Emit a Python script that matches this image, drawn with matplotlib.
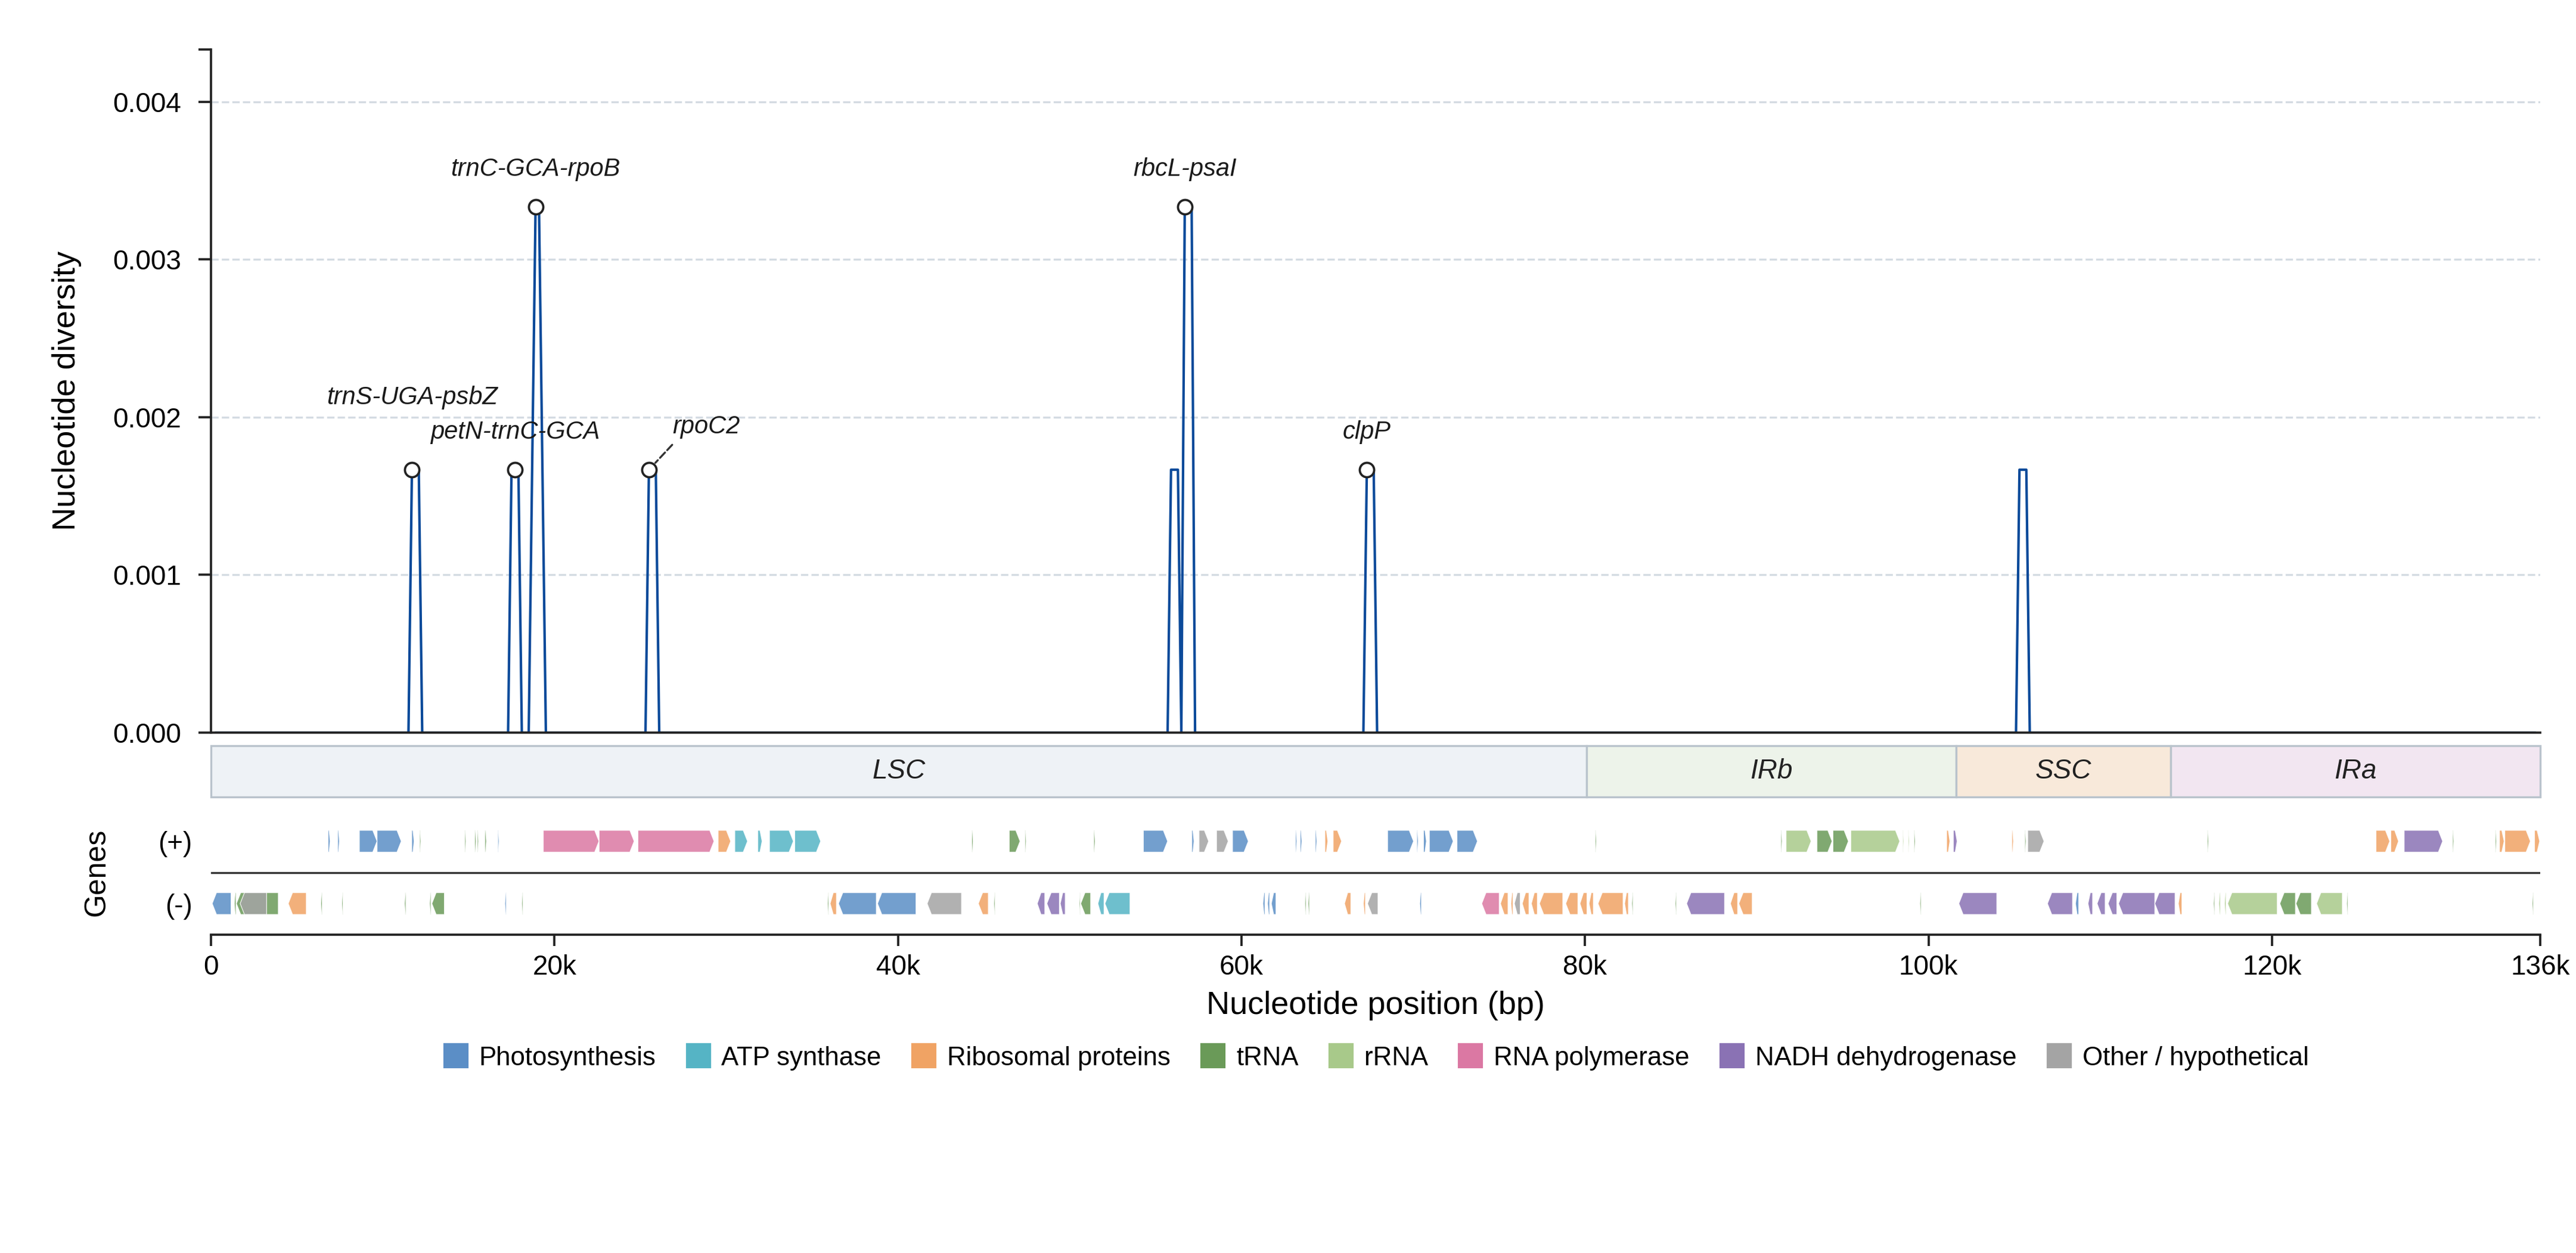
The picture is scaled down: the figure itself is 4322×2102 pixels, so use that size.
import matplotlib
matplotlib.use("Agg")
import matplotlib.pyplot as plt
import numpy as np
from matplotlib.lines import Line2D
from matplotlib.patches import Polygon, Rectangle

plt.rcParams["font.family"] = ["Liberation Sans", "DejaVu Sans"]

GENOME_LEN = 135620
WIN_FIRST = 300      # midpoint of first 600 bp window
WIN_STEP = 200

# sliding windows with non-zero Pi (window midpoint, value); all others are 0
pi_mid = [11700, 11900, 12100, 17500, 17700, 17900,
          18700, 18900, 19100, 19300, 25500, 25700, 25900,
          55900, 56100, 56300, 56700, 56900, 57100,
          67300, 67500, 67700, 105300, 105500, 105700]
pi_val = [0.001667, 0.001667, 0.001667, 0.001667, 0.001667, 0.001667,
          0.001667, 0.003333, 0.003333, 0.001667, 0.001667, 0.001667, 0.001667,
          0.001667, 0.001667, 0.001667, 0.003333, 0.003333, 0.003333,
          0.001667, 0.001667, 0.001667, 0.001667, 0.001667, 0.001667]

# labelled hotspots
peak_names = ["trnS-UGA-psbZ", "petN-trnC-GCA", "trnC-GCA-rpoB", "rpoC2",
              "rbcL-psaI", "clpP"]
peak_pos = [11700, 17700, 18900, 25500, 56700, 67300]

# quadripartite structure
region_names = ["LSC", "IRb", "SSC", "IRa"]
region_edges = [0, 80100, 101600, 114120, 135620]
region_fill = ["#eef2f6", "#edf3ea", "#f8e9da", "#f2e6f1"]

categories = ["Photosynthesis", "ATP synthase", "Ribosomal proteins", "tRNA",
              "rRNA", "RNA polymerase", "NADH dehydrogenase",
              "Other / hypothetical"]
cat_keys = ["PS", "ATP", "RP", "TRNA", "RRNA", "RNAP", "NDH", "OTH"]
cat_colors = ["#5b8ec6", "#55b4c5", "#f0a364", "#6a9a58", "#a8c98a",
              "#db78a3", "#8a72b4", "#a4a4a4"]

# genes (start, end, category)
plus_genes = [
    (6820, 6940, "PS"), (7380, 7480, "PS"), (8640, 9670, "PS"),
    (9670, 11080, "PS"), (11690, 11830, "PS"), (12150, 12220, "TRNA"),
    (14780, 14850, "TRNA"), (15360, 15440, "TRNA"), (15510, 15580, "TRNA"),
    (15950, 16040, "TRNA"), (16700, 16770, "PS"), (19350, 22590, "RNAP"),
    (22600, 24640, "RNAP"), (24860, 29290, "RNAP"), (29530, 30260, "RP"),
    (30500, 31240, "ATP"), (31840, 32090, "ATP"), (32520, 33910, "ATP"),
    (33990, 35500, "ATP"), (44300, 44380, "TRNA"), (46480, 47110, "TRNA"),
    (47400, 47470, "TRNA"), (51400, 51480, "TRNA"), (54290, 55700, "PS"),
    (57110, 57240, "PS"), (57530, 58090, "OTH"), (58550, 59230, "OTH"),
    (59480, 60400, "PS"), (63150, 63230, "PS"), (63420, 63520, "PS"),
    (64300, 64390, "PS"), (64860, 65030, "RP"), (65340, 65830, "RP"),
    (68510, 70020, "PS"), (70210, 70290, "PS"), (70600, 70770, "PS"),
    (70940, 72330, "PS"), (72550, 73740, "PS"), (80600, 80670, "TRNA"),
    (91410, 91480, "TRNA"), (91710, 93170, "RRNA"), (93510, 94390, "TRNA"),
    (94440, 95340, "TRNA"), (95480, 98330, "RRNA"), (98500, 98560, "RRNA"),
    (98820, 98880, "RRNA"), (99160, 99230, "TRNA"), (101060, 101250, "RP"),
    (101450, 101670, "NDH"), (104860, 104950, "RP"), (105610, 105680, "TRNA"),
    (105780, 106730, "OTH"), (116240, 116310, "TRNA"), (126060, 126860, "RP"),
    (126920, 127370, "RP"), (127700, 129940, "NDH"), (130520, 130590, "TRNA"),
    (133010, 133080, "TRNA"), (133250, 133520, "RP"), (133560, 135050, "RP"),
    (135290, 135590, "RP"),
]
minus_genes = [
    (70, 1170, "PS"), (1360, 1460, "TRNA"), (1480, 3920, "TRNA"),
    (1700, 3240, "OTH"), (4500, 5550, "RP"), (6400, 6480, "TRNA"),
    (7620, 7690, "TRNA"), (11270, 11350, "TRNA"), (12730, 12810, "TRNA"),
    (12860, 13590, "TRNA"), (17110, 17190, "PS"), (18090, 18160, "TRNA"),
    (35900, 35970, "TRNA"), (36050, 36420, "RP"), (36540, 38740, "PS"),
    (38810, 41050, "PS"), (41700, 43700, "OTH"), (44680, 45260, "RP"),
    (45590, 45660, "TRNA"), (48110, 48550, "NDH"), (48670, 49400, "NDH"),
    (49450, 49740, "NDH"), (50560, 50620, "TRNA"), (50640, 51220, "TRNA"),
    (51640, 52000, "ATP"), (52050, 53510, "ATP"), (61250, 61370, "PS"),
    (61520, 61640, "PS"), (61740, 62010, "PS"), (63690, 63760, "TRNA"),
    (63880, 63960, "TRNA"), (66000, 66370, "RP"), (67100, 67220, "RP"),
    (67340, 67950, "OTH"), (70380, 70480, "PS"), (73990, 75010, "RNAP"),
    (75080, 75520, "RP"), (75690, 75810, "RP"), (75890, 76230, "OTH"),
    (76350, 76740, "RP"), (76880, 77230, "RP"), (77350, 78710, "RP"),
    (78880, 79590, "RP"), (79710, 80120, "RP"), (80240, 80490, "RP"),
    (80760, 82220, "RP"), (82310, 82530, "RP"), (82730, 82800, "TRNA"),
    (85260, 85330, "TRNA"), (85920, 88130, "NDH"), (88470, 88890, "RP"),
    (88960, 89740, "RP"), (99500, 99570, "TRNA"), (101770, 103980, "NDH"),
    (106930, 108390, "NDH"), (108560, 108750, "PS"), (109290, 109560, "NDH"),
    (109820, 110290, "NDH"), (110460, 110970, "NDH"), (111070, 113180, "NDH"),
    (113180, 114360, "NDH"), (114550, 114760, "RP"), (116600, 116670, "TRNA"),
    (116910, 117000, "RRNA"), (117240, 117330, "RRNA"), (117420, 120310, "RRNA"),
    (120460, 121370, "TRNA"), (121400, 122300, "TRNA"), (122600, 124100, "RRNA"),
    (124350, 124420, "TRNA"), (135160, 135230, "TRNA"),
]

xticks = [0, 20000, 40000, 60000, 80000, 100000, 120000, GENOME_LEN]

INK = "#222222"
LINE = "#0b4a9a"


def gene_shape(start, end, strand, yc, h=0.35, head=250):
    hd = min(head, 0.5 * (end - start))
    y0, y1 = yc - h / 2, yc + h / 2
    if strand > 0:
        pts = [(start, y0), (end - hd, y0), (end, yc), (end - hd, y1), (start, y1)]
    else:
        pts = [(end, y0), (start + hd, y0), (start, yc), (start + hd, y1), (end, y1)]
    return pts


# full window series: zero everywhere except the windows listed above
win_x = np.arange(WIN_FIRST, GENOME_LEN - WIN_FIRST + 1, WIN_STEP)
win_y = np.zeros(len(win_x))
for m, v in zip(pi_mid, pi_val):
    win_y[(m - WIN_FIRST) // WIN_STEP] = v
ymax = max(pi_val) * 1.3

fig = plt.figure(figsize=(4322 / 300, 2102 / 300), dpi=300)
L, W = 0.0819, 0.9042
ax = fig.add_axes([L, 0.4153, W, 0.5454])
ax_reg = fig.add_axes([L, 0.3639, W, 0.0410])
ax_gen = fig.add_axes([L, 0.2540, W, 0.0995])

# --- Pi curve ---
ax.plot(win_x, win_y, color=LINE, lw=1.0, zorder=2)
ax.set_xlim(0, GENOME_LEN)
ax.set_ylim(0, ymax)
ax.set_yticks([0, 0.001, 0.002, 0.003, 0.004])
ax.set_yticks([ymax], minor=True)
ax.yaxis.set_major_formatter(plt.FormatStrFormatter("%.3f"))
ax.yaxis.grid(True, ls="--", color="#d4dbe2", lw=0.8)
ax.set_axisbelow(True)
ax.set_xticks([])
for s in ("top", "right"):
    ax.spines[s].set_visible(False)
for s in ("left", "bottom"):
    ax.spines[s].set_color(INK)
    ax.spines[s].set_linewidth(0.9)
ax.tick_params(axis="y", which="both", labelsize=11, length=5, width=0.9,
               pad=7, color=INK)
ax.set_ylabel("Nucleotide diversity", fontsize=13)
ax.yaxis.set_label_coords(-0.0555, 0.5)

peak_val = [win_y[(p - WIN_FIRST) // WIN_STEP] for p in peak_pos]
ax.plot(peak_pos, peak_val, "o", mfc="white", mec=INK, ms=5.8, mew=0.9,
        zorder=4, clip_on=False)
for name, px, py in zip(peak_names, peak_pos, peak_val):
    if name == "rpoC2":
        ax.annotate(name, xy=(px, py), xytext=(23, 17.2),
                    textcoords="offset points", ha="center", va="center",
                    fontsize=10, style="italic", color="#1a1a1a",
                    arrowprops=dict(arrowstyle="-", color="#333333", lw=0.8,
                                    ls="--", relpos=(0.08, 0.0),
                                    shrinkA=0.5, shrinkB=3.8))
    else:
        dy = 29.0 if name == "trnS-UGA-psbZ" else 15.2
        ax.annotate(name, xy=(px, py), xytext=(0, dy),
                    textcoords="offset points", ha="center", va="center",
                    fontsize=10, style="italic", color="#1a1a1a")

# --- region bar ---
ax_reg.set_xlim(0, GENOME_LEN)
ax_reg.set_ylim(0, 1)
ax_reg.axis("off")
for i, name in enumerate(region_names):
    a, b = region_edges[i], region_edges[i + 1]
    ax_reg.add_patch(Rectangle((a, 0), b - a, 1, fc=region_fill[i],
                               ec="#b9c3cc", lw=0.8, clip_on=False))
    ax_reg.text((a + b) / 2, 0.5, name, ha="center", va="center",
                fontsize=11, style="italic", color=INK)

# --- gene track ---
col = dict(zip(cat_keys, cat_colors))
for strand, genes, yc in ((1, plus_genes, 0.5), (-1, minus_genes, -0.5)):
    for start, end, cat in genes:
        ax_gen.add_patch(Polygon(gene_shape(start, end, strand, yc),
                                 closed=True, fc=col[cat], ec="white",
                                 lw=0.3, alpha=0.85))
ax_gen.axhline(0, color="#333333", lw=0.8)
ax_gen.set_xlim(0, GENOME_LEN)
ax_gen.set_ylim(-1, 1)
ax_gen.set_yticks([0.5, -0.5])
ax_gen.set_yticklabels(["(+)", "(-)"])
ax_gen.set_xticks(xticks)
ax_gen.set_xticklabels(["0" if t == 0 else f"{t / 1000:.0f}k" for t in xticks])
for s in ("top", "right", "left"):
    ax_gen.spines[s].set_visible(False)
ax_gen.spines["bottom"].set_color(INK)
ax_gen.spines["bottom"].set_linewidth(0.9)
ax_gen.tick_params(axis="y", length=0, pad=7.5, labelsize=11)
ax_gen.tick_params(axis="x", length=4.5, width=0.9, labelsize=11, color=INK)
ax_gen.set_ylabel("Genes", fontsize=12)
ax_gen.yaxis.set_label_coords(-0.0432, 0.5)
ax_gen.set_xlabel("Nucleotide position (bp)", fontsize=13)

handles = [Line2D([], [], marker="s", ls="", ms=9, mfc=c, mec=c)
           for c in cat_colors]
fig.legend(handles, categories, loc="center", bbox_to_anchor=(0.534, 0.1555),
           ncol=8, frameon=False, fontsize=10.5, handlelength=1.0,
           handletextpad=0.38, columnspacing=1.14)

fig.savefig("out.png", dpi=300)
